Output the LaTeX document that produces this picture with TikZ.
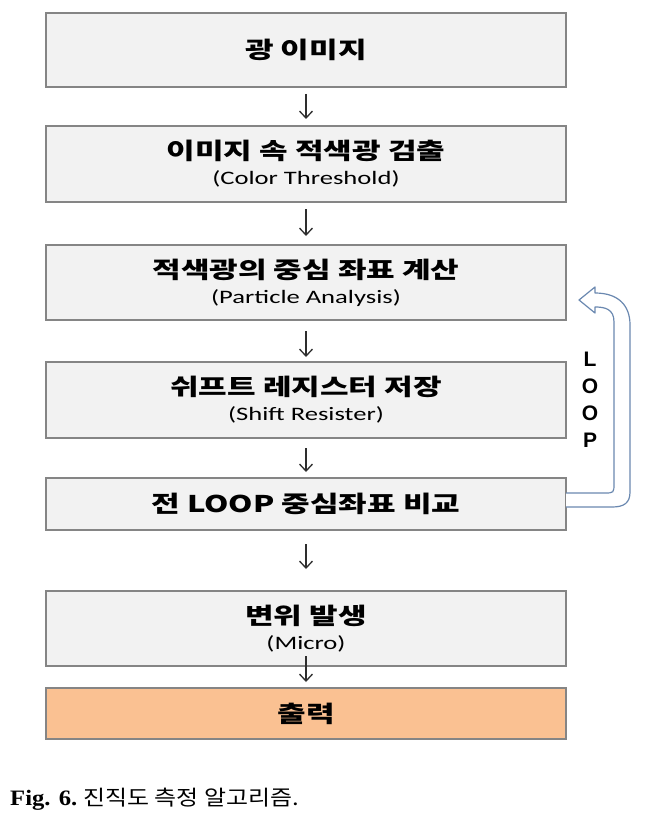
\documentclass[tikz,border=0pt]{standalone}
\usepackage{fontspec}
\setmainfont{Liberation Serif}
\newfontfamily\kr[FakeStretch=1.35]{Noto Sans CJK KR}
\newfontfamily\krcap[FakeStretch=1.14]{Noto Sans CJK KR}
\newfontfamily\en[FakeStretch=1.4]{Carlito}
\newfontfamily\loopf{Liberation Sans}
\newfontfamily\capf[FakeStretch=1.12]{Liberation Serif}
\usetikzlibrary{arrows.meta}
\definecolor{boxfill}{HTML}{F2F2F2}
\definecolor{boxline}{HTML}{858585}
\definecolor{outfill}{HTML}{FAC192}
\definecolor{loopblue}{HTML}{6A88B0}
\definecolor{arrgray}{HTML}{2E2E2E}
\newcommand{\kt}[1]{{\kr\bfseries\fontsize{23}{24}\selectfont #1}}
\newcommand{\et}[1]{{\en\fontsize{19}{20}\selectfont #1}}
\begin{document}
\begin{tikzpicture}[x=1pt,y=-1pt,
  stepbox/.style={draw=boxline, line width=2pt, fill=boxfill, minimum width=520pt, align=center, inner sep=0pt},
  arr/.style={draw=arrgray, line width=1.3pt, -{Straight Barb[length=7pt,width=13pt,line width=1.3pt]}}
]
\useasboundingbox (0,0) rectangle (651,813);
\fill[white] (0,0) rectangle (651,813);

\node[stepbox, minimum height=74pt] (b1) at (306,50) {\kt{광 이미지}};
\node[stepbox, minimum height=76pt] (b2) at (306,164) {\kt{이미지 속 적색광 검출}\\[8pt]\et{(Color Threshold)}};
\node[stepbox, minimum height=75pt] (b3) at (306,282.5) {\kt{적색광의 중심 좌표 계산}\\[8pt]\et{(Particle Analysis)}};
\node[stepbox, minimum height=76pt] (b4) at (306,400) {\kt{쉬프트 레지스터 저장}\\[8pt]\et{(Shift Resister)}};
\node[stepbox, minimum height=52pt] (b5) at (306,504) {\kt{전 LOOP 중심좌표 비교}};
\node[stepbox, minimum height=75pt] (b6) at (306,628.5) {\kt{변위 발생}\\[8pt]\et{(Micro)}};
\node[stepbox, minimum height=51pt, fill=outfill] (b7) at (306,713.5) {\kt{출력}};

\draw[arr, shorten <=6pt, shorten >=6pt] (b1) -- (b2);
\draw[arr, shorten <=6pt, shorten >=8pt] (b2) -- (b3);
\draw[arr, shorten <=10pt, shorten >=4pt] (b3) -- (b4);
\draw[arr, shorten <=9pt, shorten >=5pt] (b4) -- (b5);
\draw[arr, shorten <=13pt, shorten >=21pt] (b5) -- (b6);
\draw[arr, shorten >=5pt] ([yshift=11pt]b6.south) -- (b7.north);

% hollow loop arrow from b5 back to b3
\filldraw[draw=loopblue, fill=white, line width=1.2pt, line join=round]
  (566,493) -- (604,493) .. controls (614,493) .. (614,483) -- (614,322)
  .. controls (614,309) and (605,307) .. (595,307) -- (595,313) -- (579,300)
  -- (595,287) -- (595,293) .. controls (618,293) and (630,305) .. (630,325)
  -- (630,492) .. controls (630,503) and (624,507) .. (612,507) -- (566,507);

\node[font=\loopf\bfseries\fontsize{21}{27}\selectfont, align=center, inner sep=0pt] (lp) at (590,400) {L\\O\\O\\P};

\node[anchor=base west, inner sep=0pt] (cap) at (10,805)
  {{\capf\bfseries\fontsize{22}{24}\selectfont Fig. 6.}\hspace{6pt}{\krcap\fontsize{21}{24}\selectfont 진직도 측정 알고리즘.}};
\end{tikzpicture}
\end{document}
